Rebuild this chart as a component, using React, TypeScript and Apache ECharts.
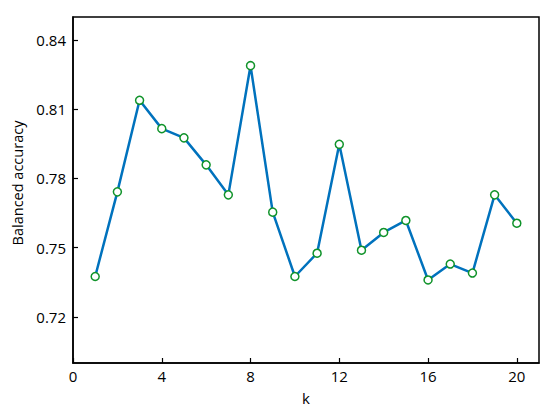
import React, { useEffect, useRef } from "react";
import * as echarts from "echarts";

const kValues = [1, 2, 3, 4, 5, 6, 7, 8, 9, 10, 11, 12, 13, 14, 15, 16, 17, 18, 19, 20];
const accuracy = [
  0.7375, 0.7742, 0.8139, 0.8016, 0.7976, 0.7859, 0.7729, 0.8289, 0.7654, 0.7375,
  0.7476, 0.7948, 0.7489, 0.7566, 0.7618, 0.736, 0.7429, 0.739, 0.7729, 0.7606,
];
const xTicks = [0, 4, 8, 12, 16, 20];
const yTicks = [0.72, 0.75, 0.78, 0.81, 0.84];

const FONT = "'Open Sans', 'Noto Sans', sans-serif";

export default function App() {
  const ref = useRef<HTMLDivElement>(null);
  useEffect(() => {
    if (!ref.current) return;
    const chart = echarts.init(ref.current, undefined, { renderer: "svg" });
    chart.setOption({
      animation: false,
      backgroundColor: "#ffffff",
      grid: {
        left: 73,
        top: 17,
        right: 11,
        bottom: 49,
        show: true,
        borderColor: "#000",
        borderWidth: 1.5,
        backgroundColor: "transparent",
      },
      xAxis: {
        type: "value",
        min: 0,
        max: 21,
        name: "k",
        nameLocation: "middle",
        nameGap: 27,
        nameTextStyle: { fontFamily: FONT, fontSize: 15, color: "#000" },
        axisLine: { show: true, onZero: false, lineStyle: { color: "#000", width: 1.5 } },
        axisTick: { show: true, inside: true, length: 5, customValues: xTicks, lineStyle: { color: "#000", width: 1.2 } },
        axisLabel: { customValues: xTicks, fontFamily: FONT, fontSize: 15, color: "#000", margin: 5 },
        splitLine: { show: false },
      },
      yAxis: {
        type: "value",
        min: 0.7,
        max: 0.85,
        name: "Balanced accuracy",
        nameLocation: "middle",
        nameGap: 43,
        nameTextStyle: { fontFamily: FONT, fontSize: 14.5, color: "#000", padding: [0, 0, 0, 14] },
        axisLine: { show: true, onZero: false, lineStyle: { color: "#000", width: 1.5 } },
        axisTick: { show: true, inside: true, length: 5, customValues: yTicks, lineStyle: { color: "#000", width: 1.2 } },
        axisLabel: {
          customValues: yTicks,
          fontFamily: FONT,
          fontSize: 15,
          color: "#000",
          margin: 7,
          formatter: (v: number) => v.toFixed(2),
        },
        splitLine: { show: false },
      },
      series: [
        {
          type: "line",
          data: kValues.map((k, i) => [k, accuracy[i]]),
          symbol: "circle",
          symbolSize: 8,
          lineStyle: { color: "#0072BD", width: 2.5 },
          itemStyle: { color: "#ffffff", borderColor: "#10932a", borderWidth: 1.5 },
        },
      ],
    });
    return () => chart.dispose();
  }, []);
  return <div ref={ref} style={{ position: "absolute", left: 0, top: 0, width: 550, height: 412 }} />;
}
